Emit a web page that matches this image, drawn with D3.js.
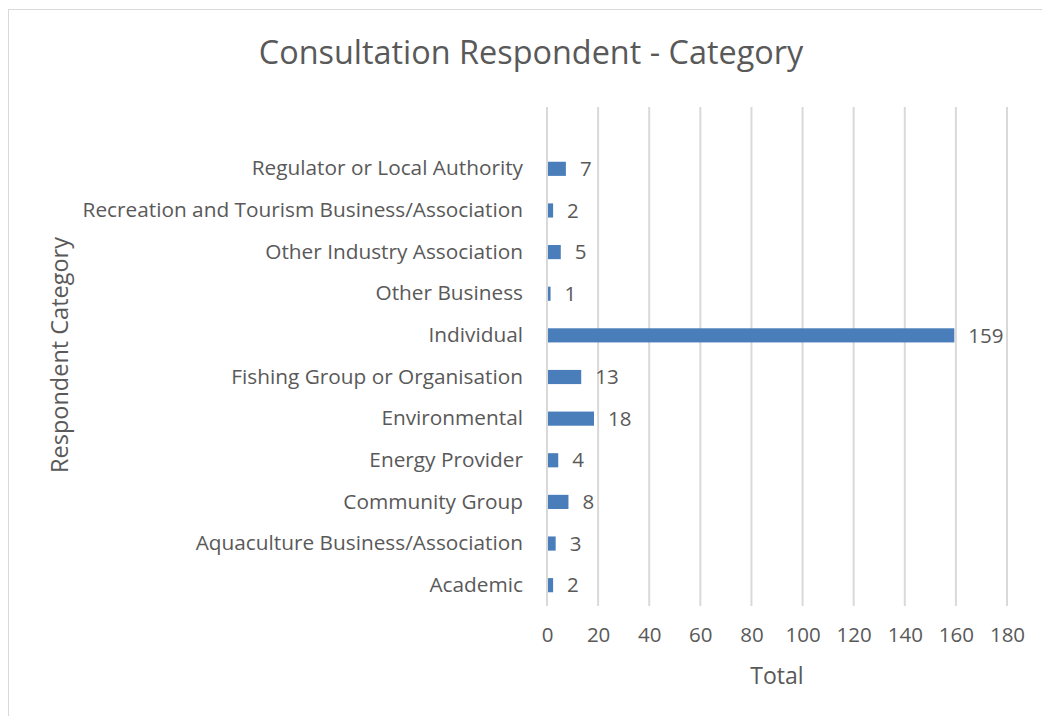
<!DOCTYPE html>
<html>
<head>
<meta charset="utf-8">
<script src="https://cdn.jsdelivr.net/npm/d3@7"></script>
<style>
  html, body { margin: 0; padding: 0; background: #fff; }
  svg { display: block; }
  text { font-family: "Open Sans", "Liberation Sans", sans-serif; fill: #595959; }
</style>
</head>
<body>
<svg id="chart" width="1042" height="716"></svg>
<script>
const categories = [
  "Regulator or Local Authority",
  "Recreation and Tourism Business/Association",
  "Other Industry Association",
  "Other Business",
  "Individual",
  "Fishing Group or Organisation",
  "Environmental",
  "Energy Provider",
  "Community Group",
  "Aquaculture Business/Association",
  "Academic"
];
const totals = [7, 2, 5, 1, 159, 13, 18, 4, 8, 3, 2];
const xTicks = [0, 20, 40, 60, 80, 100, 120, 140, 160, 180];
const title = "Consultation Respondent - Category";
const xTitle = "Total";
const yTitle = "Respondent Category";

const svg = d3.select("#chart");

// outer chart border
svg.append("rect")
  .attr("x", 8.5).attr("y", 9.5)
  .attr("width", 1042).attr("height", 716)
  .attr("fill", "none").attr("stroke", "#d9d9d9").attr("stroke-width", 1);

const plotLeft = 547, plotRight = 1007, plotTop = 107, plotBottom = 606;

const x = d3.scaleLinear().domain([0, 180]).range([plotLeft, plotRight]);
const y = d3.scaleBand().domain(categories).range([148, plotBottom]).paddingInner(0.66).paddingOuter(0.33);

// gridlines
svg.append("g").selectAll("line").data(xTicks).join("line")
  .attr("x1", d => x(d)).attr("x2", d => x(d))
  .attr("y1", plotTop).attr("y2", plotBottom)
  .attr("stroke", "#d9d9d9").attr("stroke-width", 2);

// x axis tick labels
const xAxis = d3.axisBottom(x).tickValues(xTicks).tickSize(0).tickPadding(0);
const gx = svg.append("g").attr("transform", `translate(0, ${plotBottom + 21})`).call(xAxis);
gx.select(".domain").remove();
gx.selectAll("text").attr("font-size", 20.5).attr("fill", "#595959")
  .style("font-family", "'Open Sans', sans-serif");

// y axis labels
const yAxis = d3.axisLeft(y).tickSize(0).tickPadding(24);
const gy = svg.append("g").attr("transform", `translate(${plotLeft}, 0)`).call(yAxis);
gy.select(".domain").remove();
gy.selectAll("text").attr("font-size", 20.8).attr("fill", "#595959")
  .style("font-family", "'Open Sans', sans-serif");

// bars
svg.append("g").selectAll("rect").data(categories).join("rect")
  .attr("x", x(0) + 1)
  .attr("y", d => y(d))
  .attr("width", (d, i) => x(totals[i]) - x(0))
  .attr("height", y.bandwidth())
  .attr("fill", "#4a7ebb");

// value labels
svg.append("g").selectAll("text").data(categories).join("text")
  .attr("x", (d, i) => x(totals[i]) + 15)
  .attr("y", d => y(d) + y.bandwidth() / 2)
  .attr("dy", "0.35em")
  .attr("font-size", 20.5)
  .text((d, i) => totals[i]);

// title
svg.append("text")
  .attr("x", 531).attr("y", 64)
  .attr("text-anchor", "middle")
  .attr("font-size", 32.4)
  .text(title);

// axis titles
svg.append("text")
  .attr("x", 777).attr("y", 684)
  .attr("text-anchor", "middle")
  .attr("font-size", 23)
  .text(xTitle);

svg.append("text")
  .attr("transform", "translate(68, 355) rotate(-90)")
  .attr("text-anchor", "middle")
  .attr("font-size", 23.5)
  .text(yTitle);
</script>
</body>
</html>
